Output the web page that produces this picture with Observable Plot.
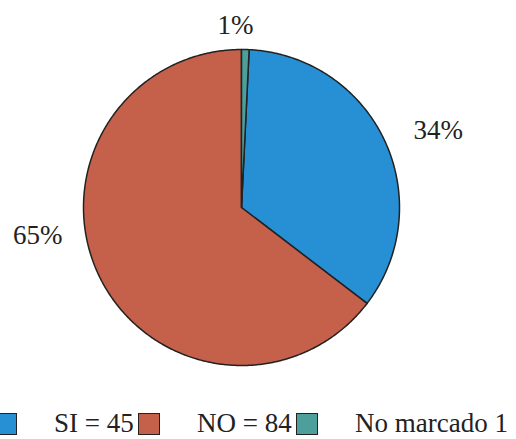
<!DOCTYPE html>
<html>
<head>
<meta charset="utf-8">
<script src="https://cdn.jsdelivr.net/npm/d3@7"></script>
<script src="https://cdn.jsdelivr.net/npm/@observablehq/plot@0.6"></script>
<style>
  html, body { margin: 0; padding: 0; background: #fff; overflow: hidden; }
  #chart { width: 516px; height: 439px; position: relative; font-family: "Liberation Serif", "DejaVu Serif", serif; }
  .item { position: absolute; top: 410px; height: 27px; display: flex; align-items: center; white-space: nowrap; font-size: 27px; line-height: 27px; color: #222; }
  .sw { width: 20px; height: 20px; border: 1.5px solid #222; margin-right: 37px; flex: none; }
</style>
</head>
<body>
<div id="chart"></div>
<script>
// Data
const categories = ["SI", "NO", "No marcado"];
const counts = [45, 84, 1];
const percentLabels = ["34%", "65%", "1%"];
const legendLabels = ["SI = 45", "NO = 84", "No marcado 1"];
const colors = ["#278fd4", "#c5604a", "#4c9f9a"];

// Layout (label anchor positions in unit-circle coordinates, legend item offsets in px)
const labelAnchors = [[1.246, 0.489], [-1.29, -0.174], [-0.038, 1.152]];
const legendX = [-5, 138, 296];

const total = d3.sum(counts);
const offset = 2 * Math.PI * counts[2] / total;
const pie = d3.pie().sort(null).value(d => d).startAngle(offset).endAngle(2 * Math.PI + offset);
const arcs = pie(counts);

const slices = [];
arcs.forEach((a, i) => {
  slices.push({cat: categories[i], x: 0, y: 0});
  const n = Math.max(2, Math.ceil((a.endAngle - a.startAngle) / 0.01));
  for (let k = 0; k <= n; k++) {
    const t = a.startAngle + (a.endAngle - a.startAngle) * k / n;
    slices.push({cat: categories[i], x: Math.sin(t), y: Math.cos(t)});
  }
  slices.push({cat: categories[i], x: 0, y: 0});
});

const labels = categories.map((c, i) => ({cat: c, text: percentLabels[i], x: labelAnchors[i][0], y: labelAnchors[i][1]}));

const plot = Plot.plot({
  width: 516,
  height: 395,
  margin: 0,
  style: {fontFamily: "'Liberation Serif', serif", background: "#fff", overflow: "visible"},
  x: {domain: [-1, 1], range: [83, 399], axis: null},
  y: {domain: [-1, 1], range: [365, 49], axis: null},
  color: {domain: categories, range: colors},
  marks: [
    Plot.line(slices, {x: "x", y: "y", z: "cat", fill: "cat", stroke: "#222", strokeWidth: 1.5, strokeLinejoin: "round", curve: "linear"}),
    Plot.text(labels, {x: "x", y: "y", text: "text", fontSize: 27, fill: "#222"})
  ]
});

const chart = document.getElementById("chart");
chart.appendChild(plot);

legendLabels.forEach((l, i) => {
  const it = document.createElement("div");
  it.className = "item";
  it.style.left = legendX[i] + "px";
  const sw = document.createElement("div");
  sw.className = "sw";
  sw.style.background = colors[i];
  const tx = document.createElement("span");
  tx.textContent = l;
  it.appendChild(sw);
  it.appendChild(tx);
  chart.appendChild(it);
});
</script>
</body>
</html>
